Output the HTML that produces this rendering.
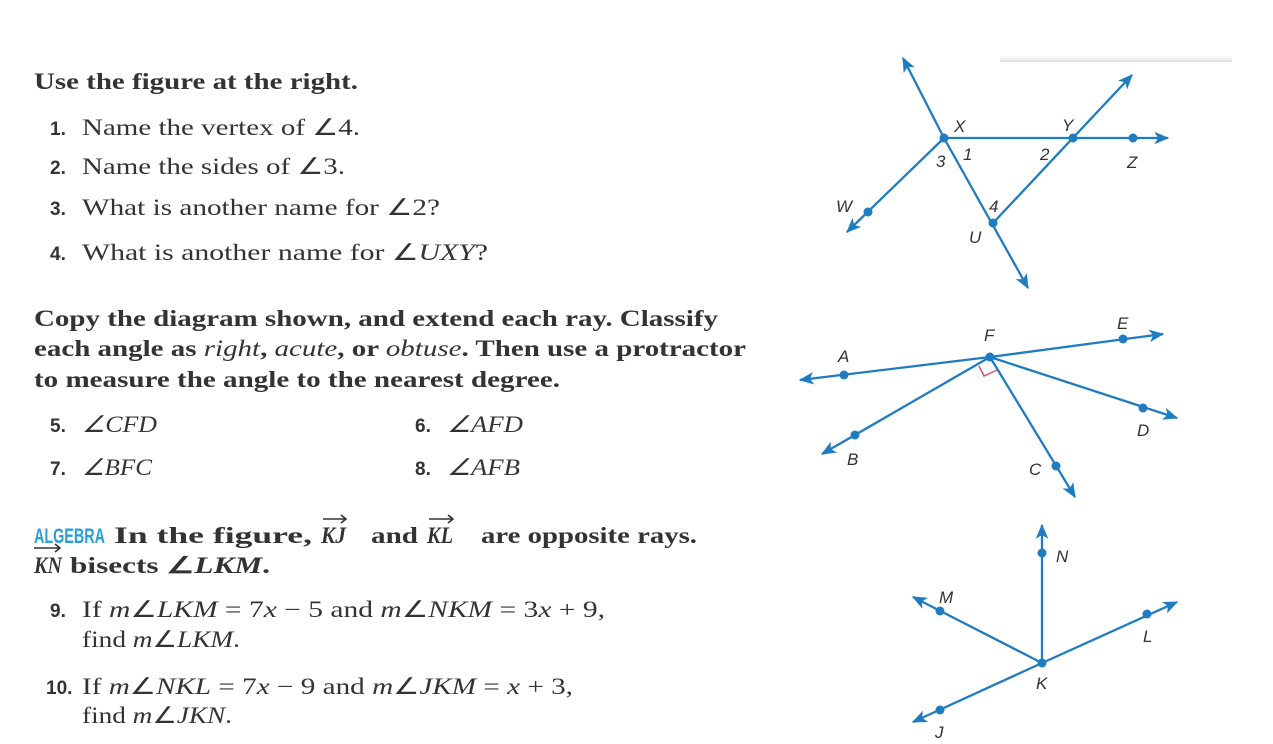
<!DOCTYPE html>
<html><head><meta charset="utf-8"><style>
html,body{margin:0;padding:0;background:#fff;}
svg{display:block;}
.s{font-family:"Liberation Serif",serif;font-size:23px;fill:#333;}
.b{font-weight:bold;}
.n{font-family:"Liberation Sans",sans-serif;font-weight:bold;font-size:19px;fill:#333;}
.l{font-family:"Liberation Sans",sans-serif;font-style:italic;font-size:17px;fill:#333;}
.ln{stroke:#1f7cc0;stroke-width:2.3;fill:none;}
.d{fill:#1f7cc0;}
</style></head><body>
<svg width="1273" height="744" viewBox="0 0 1273 744" xmlns="http://www.w3.org/2000/svg">
<defs>
<marker id="a" viewBox="0 0 12 10" refX="11" refY="5" markerWidth="6.5" markerHeight="5.5" orient="auto" markerUnits="strokeWidth">
<path d="M0,0 L12,5 L0,10 L3,5 z" fill="#1f7cc0"/></marker>
<linearGradient id="g" x1="0" y1="0" x2="0" y2="1"><stop offset="0" stop-color="#fff"/><stop offset="1" stop-color="#ddd"/></linearGradient>
</defs>
<rect x="1000" y="56" width="232" height="6" fill="url(#g)"/>

<text class="s b" x="34" y="89" textLength="324" lengthAdjust="spacingAndGlyphs">Use the figure at the right.</text>
<text class="n" x="50" y="135">1.</text><text class="s" x="82" y="135" textLength="278" lengthAdjust="spacingAndGlyphs">Name the vertex of ∠4.</text>
<text class="n" x="50" y="174">2.</text><text class="s" x="82" y="174" textLength="263" lengthAdjust="spacingAndGlyphs">Name the sides of ∠3.</text>
<text class="n" x="50" y="215">3.</text><text class="s" x="82" y="215" textLength="358" lengthAdjust="spacingAndGlyphs">What is another name for ∠2?</text>
<text class="n" x="50" y="260">4.</text><text class="s" x="82" y="260" textLength="406" lengthAdjust="spacingAndGlyphs">What is another name for ∠<tspan font-style="italic">UXY</tspan>?</text>

<text class="s b" x="34" y="326" textLength="684" lengthAdjust="spacingAndGlyphs">Copy the diagram shown, and extend each ray. Classify</text>
<text class="s b" x="34" y="356" textLength="712" lengthAdjust="spacingAndGlyphs">each angle as <tspan font-style="italic" font-weight="normal">right</tspan>, <tspan font-style="italic" font-weight="normal">acute</tspan>, or <tspan font-style="italic" font-weight="normal">obtuse</tspan>. Then use a protractor</text>
<text class="s b" x="34" y="387" textLength="526" lengthAdjust="spacingAndGlyphs">to measure the angle to the nearest degree.</text>
<text class="n" x="50" y="432">5.</text><text class="s" x="82" y="432" font-style="italic" textLength="75" lengthAdjust="spacingAndGlyphs">∠CFD</text>
<text class="n" x="415" y="432">6.</text><text class="s" x="447" y="432" font-style="italic" textLength="76" lengthAdjust="spacingAndGlyphs">∠AFD</text>
<text class="n" x="50" y="475">7.</text><text class="s" x="82" y="475" font-style="italic" textLength="70" lengthAdjust="spacingAndGlyphs">∠BFC</text>
<text class="n" x="415" y="475">8.</text><text class="s" x="447" y="475" font-style="italic" textLength="73" lengthAdjust="spacingAndGlyphs">∠AFB</text>

<text x="34" y="543" font-family="Liberation Sans,sans-serif" font-weight="bold" font-size="21" fill="#2a9fd6" textLength="71" lengthAdjust="spacingAndGlyphs">ALGEBRA</text>
<text class="s b" x="114" y="543" textLength="198" lengthAdjust="spacingAndGlyphs">In the figure,</text>
<text class="s b" x="321" y="543" font-style="italic" textLength="25" lengthAdjust="spacingAndGlyphs">KJ</text>
<text class="s b" x="371" y="543" textLength="47" lengthAdjust="spacingAndGlyphs">and</text>
<text class="s b" x="427" y="543" font-style="italic" textLength="26" lengthAdjust="spacingAndGlyphs">KL</text>
<text class="s b" x="481" y="543" textLength="216" lengthAdjust="spacingAndGlyphs">are opposite rays.</text>
<path d="M323 519 H345 M341 515 L346 519 L341 523 M429 519 H452 M448 515 L453 519 L448 523 M34 548 H59 M55 544 L60 548 L55 552" stroke="#333" stroke-width="1.6" fill="none"/>
<text class="s b" x="34" y="573" font-style="italic" textLength="28" lengthAdjust="spacingAndGlyphs">KN</text>
<text class="s b" x="70" y="573" textLength="200" lengthAdjust="spacingAndGlyphs">bisects ∠<tspan font-style="italic">LKM</tspan>.</text>

<text class="n" x="50" y="617">9.</text><text class="s" x="82" y="617" textLength="523" lengthAdjust="spacingAndGlyphs">If <tspan font-style="italic">m</tspan>∠<tspan font-style="italic">LKM</tspan> = 7<tspan font-style="italic">x</tspan> − 5 and <tspan font-style="italic">m</tspan>∠<tspan font-style="italic">NKM</tspan> = 3<tspan font-style="italic">x</tspan> + 9,</text>
<text class="s" x="82" y="647" textLength="158" lengthAdjust="spacingAndGlyphs">find <tspan font-style="italic">m</tspan>∠<tspan font-style="italic">LKM</tspan>.</text>
<text class="n" x="46" y="694">10.</text><text class="s" x="82" y="694" textLength="491" lengthAdjust="spacingAndGlyphs">If <tspan font-style="italic">m</tspan>∠<tspan font-style="italic">NKL</tspan> = 7<tspan font-style="italic">x</tspan> − 9 and <tspan font-style="italic">m</tspan>∠<tspan font-style="italic">JKM</tspan> = <tspan font-style="italic">x</tspan> + 3,</text>
<text class="s" x="82" y="723" textLength="150" lengthAdjust="spacingAndGlyphs">find <tspan font-style="italic">m</tspan>∠<tspan font-style="italic">JKN</tspan>.</text>

<!-- Figure 1 -->
<line class="ln" x1="944" y1="138" x2="903" y2="58" marker-end="url(#a)"/>
<line class="ln" x1="944" y1="138" x2="1028" y2="288" marker-end="url(#a)"/>
<line class="ln" x1="944" y1="138" x2="1168" y2="138" marker-end="url(#a)"/>
<line class="ln" x1="993" y1="223" x2="1132" y2="75" marker-end="url(#a)"/>
<line class="ln" x1="944" y1="138" x2="847" y2="232" marker-end="url(#a)"/>
<circle class="d" cx="944" cy="138" r="4.5"/><circle class="d" cx="1073" cy="138" r="4.5"/><circle class="d" cx="1133" cy="138" r="4.5"/><circle class="d" cx="993" cy="223" r="4.5"/><circle class="d" cx="868" cy="212" r="4.5"/>
<text class="l" x="954" y="132" font-size="18">X</text><text class="l" x="1062" y="131" font-size="18">Y</text><text class="l" x="1127" y="168" font-size="18">Z</text>
<text class="l" x="936" y="167" font-style="normal" font-size="15">3</text><text class="l" x="963" y="160" font-style="normal" font-size="15">1</text><text class="l" x="1040" y="160" font-style="normal" font-size="15">2</text><text class="l" x="989" y="212" font-style="normal" font-size="15">4</text>
<text class="l" x="969" y="243" font-size="18">U</text><text class="l" x="836" y="212" font-size="18">W</text>

<!-- Figure 2 -->
<line class="ln" x1="990" y1="357" x2="800" y2="380" marker-end="url(#a)"/>
<line class="ln" x1="990" y1="357" x2="1163" y2="334" marker-end="url(#a)"/>
<line class="ln" x1="990" y1="357" x2="822" y2="454" marker-end="url(#a)"/>
<line class="ln" x1="990" y1="357" x2="1075" y2="497" marker-end="url(#a)"/>
<line class="ln" x1="990" y1="357" x2="1177" y2="418" marker-end="url(#a)"/>
<path d="M979 366 L984 376 L997 370" stroke="#e0506a" stroke-width="1.5" fill="none"/>
<circle class="d" cx="990" cy="357" r="4.5"/><circle class="d" cx="844" cy="375" r="4.5"/><circle class="d" cx="1123" cy="339" r="4.5"/><circle class="d" cx="855" cy="435" r="4.5"/><circle class="d" cx="1056" cy="466" r="4.5"/><circle class="d" cx="1143" cy="408" r="4.5"/>
<text class="l" x="838" y="362">A</text><text class="l" x="984" y="341">F</text><text class="l" x="1117" y="329">E</text><text class="l" x="847" y="465">B</text><text class="l" x="1029" y="475">C</text><text class="l" x="1137" y="436">D</text>

<!-- Figure 3 -->
<line class="ln" x1="1042" y1="663" x2="1042" y2="525" marker-end="url(#a)"/>
<line class="ln" x1="1042" y1="663" x2="913" y2="597" marker-end="url(#a)"/>
<line class="ln" x1="1042" y1="663" x2="1177" y2="602" marker-end="url(#a)"/>
<line class="ln" x1="1042" y1="663" x2="913" y2="722" marker-end="url(#a)"/>
<circle class="d" cx="1042" cy="663" r="4.5"/><circle class="d" cx="1042" cy="553" r="4.5"/><circle class="d" cx="940" cy="611" r="4.5"/><circle class="d" cx="1147" cy="614" r="4.5"/><circle class="d" cx="940" cy="710" r="4.5"/>
<text class="l" x="1056" y="562">N</text><text class="l" x="939" y="603">M</text><text class="l" x="1143" y="642">L</text><text class="l" x="1036" y="689">K</text><text class="l" x="935" y="738">J</text>
</svg>
</body></html>
